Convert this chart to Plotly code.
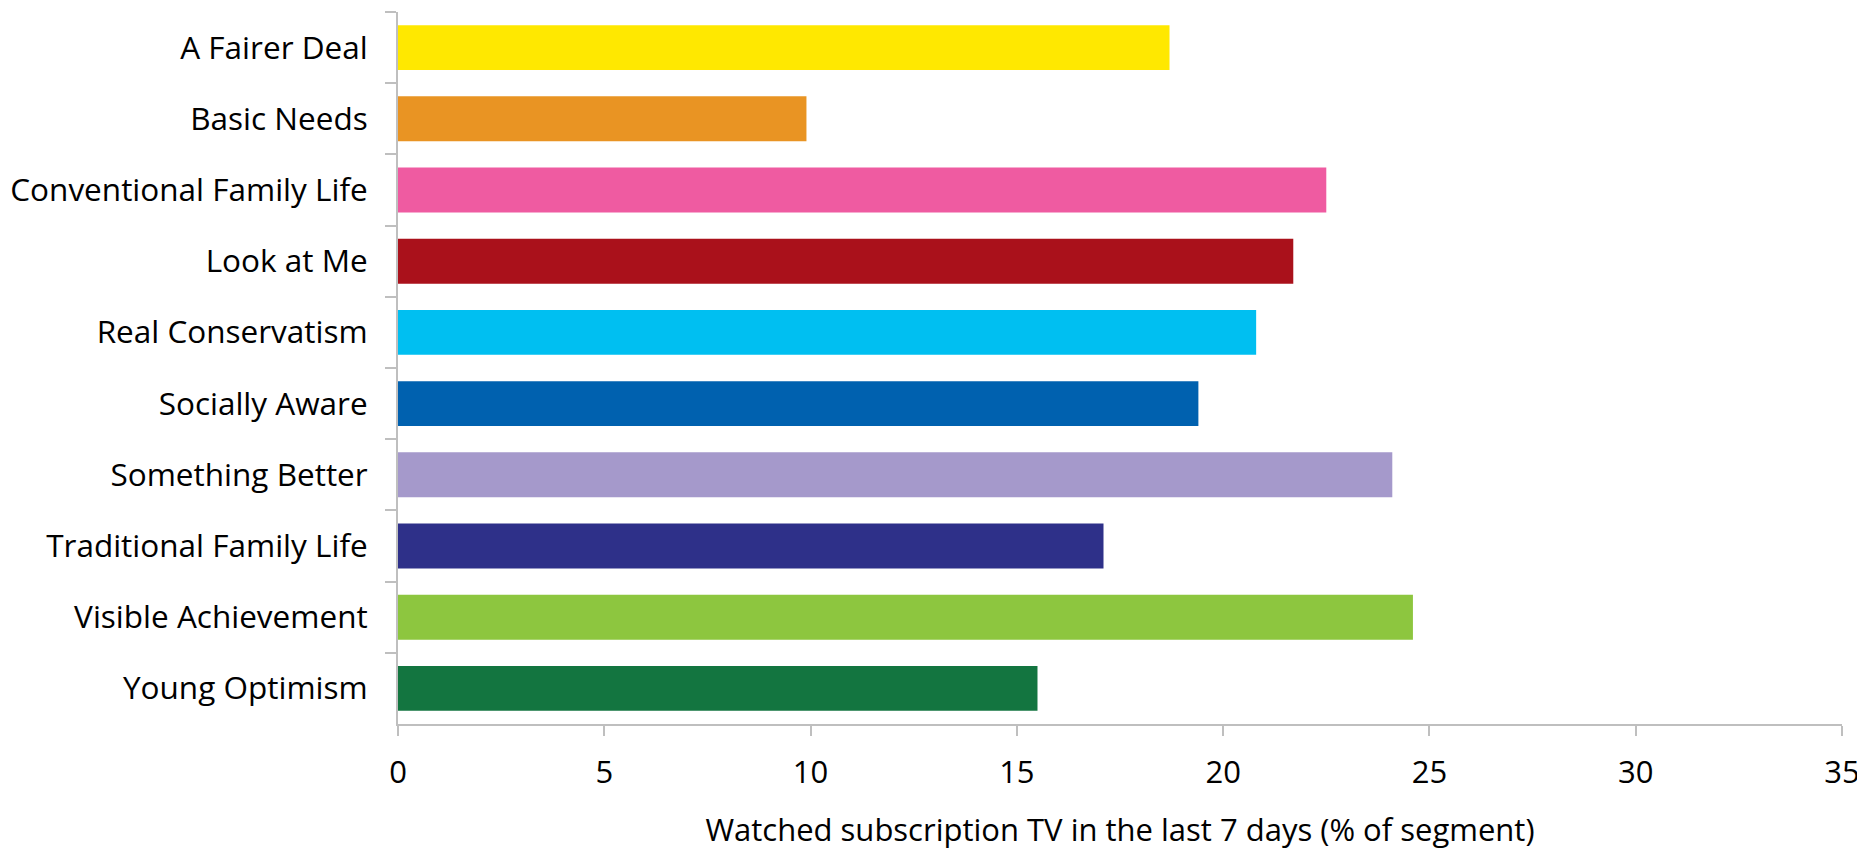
import plotly.graph_objects as go

segments = [
    "A Fairer Deal",
    "Basic Needs",
    "Conventional Family Life",
    "Look at Me",
    "Real Conservatism",
    "Socially Aware",
    "Something Better",
    "Traditional Family Life",
    "Visible Achievement",
    "Young Optimism",
]
watched_pct = [18.7, 9.9, 22.5, 21.7, 20.8, 19.4, 24.1, 17.1, 24.6, 15.5]
bar_colors = [
    "#FFE800", "#E99423", "#EF5BA1", "#AA111B", "#00BFF1",
    "#0061AF", "#A599CB", "#2E3089", "#8DC63F", "#137540",
]
x_ticks = [0, 5, 10, 15, 20, 25, 30, 35]

axis_grey = "#BFBFBF"

fig = go.Figure()
fig.add_trace(go.Bar(
    y=segments,
    x=watched_pct,
    orientation="h",
    marker=dict(color=bar_colors, line=dict(width=0)),
    showlegend=False,
))

# page body adds an 8px margin, so the plot area is shifted to compensate
fig.update_layout(
    width=1857,
    height=842,
    margin=dict(l=390, r=23, t=4, b=126),
    paper_bgcolor="white",
    plot_bgcolor="white",
    bargap=0.37,
    font=dict(family="Open Sans", color="#000000", size=31),
)
fig.update_xaxes(
    range=[0, 35],
    tickvals=x_ticks,
    automargin=False,
    showgrid=False,
    zeroline=False,
    showline=True,
    linecolor=axis_grey,
    linewidth=2,
    ticks="outside",
    ticklen=10,
    tickwidth=2,
    tickcolor=axis_grey,
    tickfont=dict(size=31),
    ticklabelstandoff=10,
    title=dict(text="Watched subscription TV in the last 7 days (% of segment)",
               font=dict(size=31), standoff=42),
)
fig.update_yaxes(
    autorange="reversed",
    automargin=False,
    showgrid=False,
    showline=True,
    linecolor=axis_grey,
    linewidth=2,
    ticks="outside",
    tickson="boundaries",
    ticklen=11,
    tickwidth=2,
    tickcolor=axis_grey,
    tickfont=dict(size=31.5),
    ticklabelstandoff=22,
)

fig.write_html("out.html")
